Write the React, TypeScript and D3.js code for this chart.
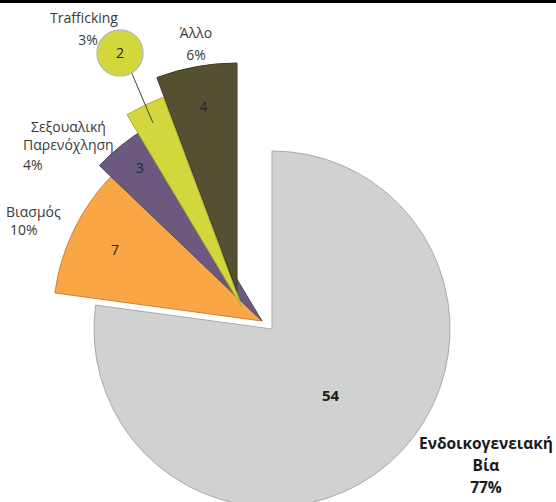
import React from "react";
import * as d3 from "d3";

// ---- data ----
const categories = ["Ενδοικογενειακή Βία", "Βιασμός", "Σεξουαλική Παρενόχληση", "Trafficking", "Άλλο"];
const categoryLines = [["Ενδοικογενειακή", "Βία"], ["Βιασμός"], ["Σεξουαλική", "Παρενόχληση"], ["Trafficking"], ["Άλλο"]];
const values = [54, 7, 3, 2, 4];

// ---- layout / style ----
const W = 556;
const H = 502;
const baseCenter = [262, 321];
const sliceOffsets = [[10, 8], [0, 0], [0, 0], [-20, -14], [-25, -30]];
const sliceRadii = [178, 209, 225, 224, 228];
const valueLabelFrac = [0.5, 0.78, 0.87, 0, 0.82];
const fills = ["#d0d1d1", "#f8a646", "#6b5a7e", "#d2d83c", "#545031"];
const strokes = ["#a9aaaa", "#c98536", "#55476a", "#aab12c", "#3e3b22"];
// outside label placement: [x per line], [baseline y per line], anchor, bold
const labelX = [[486, 486, 486], [6, 10], [31, 23, 23], [84, 88], [196, 196]];
const labelY = [[449, 471, 493], [217, 235], [132, 150, 170], [23, 45], [38, 60]];
const labelAnchor = ["middle", "start", "start", "middle", "middle"];
const labelBold = [true, false, false, false, false];
const callout = { cx: 120, cy: 53, r: 23, x1: 130, y1: 69, x2: 153, y2: 123 };
const FONT = "'Open Sans', 'Noto Sans', sans-serif";

export default function App() {
  const total = d3.sum(values);
  const pie = d3.pie<number>().sort(null).value((d) => d).startAngle(0);
  const arcs = pie(values);

  return (
    <svg
      width={W}
      height={H}
      viewBox={`0 0 ${W} ${H}`}
      style={{ position: "absolute", left: 0, top: 0, background: "#fff" }}
      fontFamily={FONT}
    >
      <rect x={0} y={0} width={W} height={H} fill="#ffffff" />
      {arcs.map((a, i) => {
        const cx = baseCenter[0] + sliceOffsets[i][0];
        const cy = baseCenter[1] + sliceOffsets[i][1];
        const arc = d3.arc<any>().innerRadius(0).outerRadius(sliceRadii[i]);
        return (
          <g key={"s" + i} transform={`translate(${cx},${cy})`}>
            <path d={arc(a) || ""} fill={fills[i]} stroke={strokes[i]} strokeWidth={1} strokeLinejoin="round" />
          </g>
        );
      })}
      {arcs.map((a, i) => {
        if (valueLabelFrac[i] === 0) return null;
        const cx = baseCenter[0] + sliceOffsets[i][0];
        const cy = baseCenter[1] + sliceOffsets[i][1];
        const r = sliceRadii[i] * valueLabelFrac[i];
        const lab = d3.arc<any>().innerRadius(r).outerRadius(r);
        const [lx, ly] = lab.centroid(a);
        return (
          <text
            key={"v" + i}
            x={cx + lx}
            y={cy + ly}
            dy="0.35em"
            textAnchor="middle"
            fontSize={i === 0 ? 15 : 14}
            fontWeight={i === 0 ? "bold" : "normal"}
            fill={i === 0 ? "#1a1a1a" : "#262626"}
          >
            {values[i]}
          </text>
        );
      })}
      {/* callout for small slice */}
      <line x1={callout.x1} y1={callout.y1} x2={callout.x2} y2={callout.y2} stroke="#404040" strokeWidth={1} />
      <circle cx={callout.cx} cy={callout.cy} r={callout.r} fill={fills[3]} stroke="#b9bdb0" strokeWidth={1.5} />
      <text x={callout.cx} y={callout.cy} dy="0.35em" textAnchor="middle" fontSize={14} fill="#262626">
        {values[3]}
      </text>
      {/* outside category labels */}
      {categories.map((c, i) => {
        const lines = [...categoryLines[i], `${Math.round((values[i] / total) * 100)}%`];
        return (
          <g key={"l" + i}>
            {lines.map((t, j) => (
              <text
                key={j}
                x={labelX[i][j]}
                y={labelY[i][j]}
                textAnchor={labelAnchor[i] as any}
                fontSize={labelBold[i] ? 15.5 : 14}
                fontWeight={labelBold[i] ? "bold" : "normal"}
                fill={labelBold[i] ? "#1a1a1a" : "#3a3a3a"}
              >
                {t}
              </text>
            ))}
          </g>
        );
      })}
      {/* top border line */}
      <rect x={0} y={0} width={W} height={3} fill="#000" />
    </svg>
  );
}
